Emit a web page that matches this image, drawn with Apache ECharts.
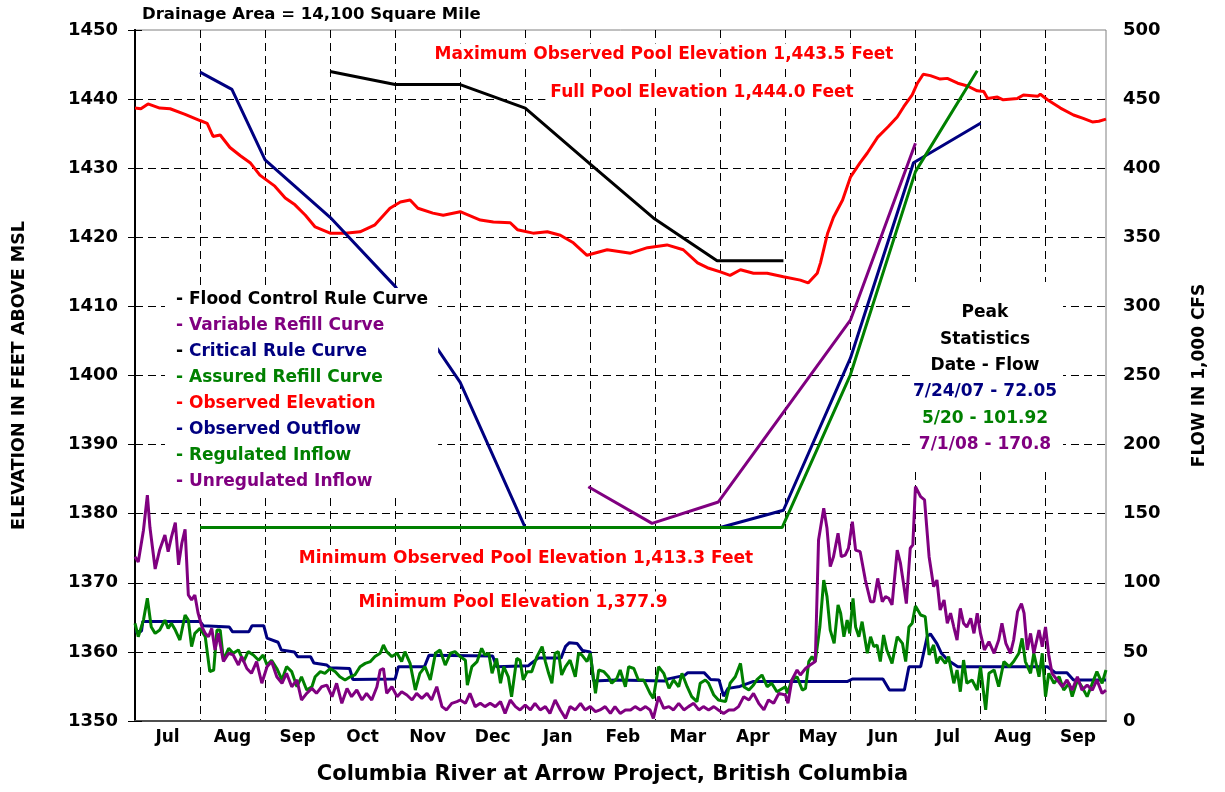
<!DOCTYPE html>
<html>
<head>
<meta charset="utf-8">
<script src="https://cdn.jsdelivr.net/npm/echarts@6/dist/echarts.min.js"></script>
<style>
html,body{margin:0;padding:0;background:#fff;}
#chart{width:1225px;height:792px;}
</style>
</head>
<body>
<div id="chart"></div>
<script>
// ---- Data (x = position in months from start of record, gridline every month) ----
const months = ['Jul','Aug','Sep','Oct','Nov','Dec','Jan','Feb','Mar','Apr','May','Jun','Jul','Aug','Sep'];
const X_MAX = 14.93;

const floodControlRuleCurve = [[3.00,1444.0],[4.00,1442.1],[5.00,1442.1],[6.00,1438.7],[7.00,1430.6],[7.97,1422.8],[8.95,1416.6],[9.97,1416.6]];
const variableRefillCurve = [[6.97,1383.9],[7.95,1378.6],[8.97,1381.7],[11.00,1408.0],[12.00,1433.6]];
const criticalRuleCurve = [[1.00,1443.9],[1.49,1441.4],[2.00,1431.2],[3.00,1422.9],[4.00,1412.9],[5.00,1399.0],[6.00,1378.0],[9.00,1378.0],[9.97,1380.5],[11.00,1402.5],[11.97,1430.8],[13.00,1436.5]];
const assuredRefillCurve = [[1.00,1378.0],[9.95,1378.0],[11.00,1400.1],[12.00,1429.5],[12.95,1444.1]];

const observedElevation = [[0.00,1438.7],[0.09,1438.6],[0.20,1439.3],[0.38,1438.7],[0.54,1438.6],[0.77,1437.8],[1.00,1436.9],[1.11,1436.5],[1.20,1434.6],[1.31,1434.8],[1.46,1433.0],[1.62,1431.8],[1.77,1430.8],[1.92,1429.0],[2.15,1427.4],[2.31,1425.7],[2.46,1424.7],[2.62,1423.2],[2.77,1421.5],[3.00,1420.6],[3.23,1420.6],[3.46,1420.8],[3.69,1421.8],[3.92,1424.2],[4.08,1425.1],[4.23,1425.4],[4.35,1424.2],[4.58,1423.5],[4.74,1423.2],[5.00,1423.7],[5.31,1422.5],[5.51,1422.2],[5.77,1422.1],[5.88,1421.1],[6.12,1420.6],[6.34,1420.8],[6.54,1420.3],[6.74,1419.2],[6.95,1417.4],[7.26,1418.2],[7.62,1417.7],[7.88,1418.5],[8.18,1418.9],[8.43,1418.2],[8.65,1416.3],[8.80,1415.6],[9.00,1415.0],[9.15,1414.5],[9.31,1415.3],[9.51,1414.8],[9.72,1414.8],[9.97,1414.3],[10.23,1413.8],[10.35,1413.4],[10.49,1414.8],[10.54,1416.3],[10.65,1420.6],[10.74,1422.9],[10.88,1425.4],[11.00,1428.7],[11.15,1430.8],[11.26,1432.2],[11.42,1434.5],[11.58,1436.0],[11.72,1437.4],[11.82,1438.9],[11.95,1440.6],[12.03,1442.3],[12.12,1443.6],[12.23,1443.4],[12.38,1442.9],[12.49,1443.0],[12.65,1442.3],[12.80,1441.9],[12.95,1441.2],[13.05,1441.1],[13.11,1440.1],[13.26,1440.3],[13.35,1439.9],[13.57,1440.1],[13.66,1440.6],[13.88,1440.4],[13.92,1440.7],[14.03,1439.9],[14.23,1438.7],[14.43,1437.7],[14.58,1437.2],[14.72,1436.7],[14.82,1436.8],[14.93,1437.1]];

const observedOutflow = [[0.00,64.6],[0.10,65.0],[0.12,72.0],[1.00,72.0],[1.05,69.0],[1.45,68.0],[1.50,64.5],[1.75,64.5],[1.80,69.0],[1.98,69.0],[2.03,60.0],[2.20,57.0],[2.25,51.4],[2.45,50.0],[2.50,46.5],[2.70,46.5],[2.75,42.0],[2.95,40.5],[3.00,38.5],[3.30,38.0],[3.35,30.0],[4.00,30.4],[4.05,39.3],[4.45,39.3],[4.52,47.5],[5.50,47.0],[5.56,39.3],[6.05,40.0],[6.10,42.0],[6.20,45.5],[6.55,45.5],[6.62,54.0],[6.68,56.7],[6.80,56.0],[6.88,51.0],[7.00,50.0],[7.05,29.0],[7.40,29.7],[8.15,29.0],[8.20,30.5],[8.45,33.0],[8.50,35.0],[8.75,35.0],[8.85,30.0],[8.98,29.7],[9.05,18.0],[9.12,23.6],[9.30,25.0],[9.50,28.5],[10.95,28.5],[11.03,30.4],[11.50,30.4],[11.60,22.4],[11.83,22.4],[11.90,39.3],[12.08,39.3],[12.18,61.0],[12.23,63.0],[12.33,56.0],[12.40,49.0],[12.50,44.0],[12.65,39.3],[14.03,39.3],[14.15,35.0],[14.33,35.0],[14.43,29.7],[14.93,29.7]];

const regulatedInflow = [[0.00,70.7],[0.05,61.0],[0.13,73.0],[0.19,88.8],[0.25,68.0],[0.31,63.4],[0.38,65.8],[0.46,73.0],[0.51,67.0],[0.56,70.7],[0.62,65.8],[0.69,58.6],[0.77,76.7],[0.82,73.0],[0.87,53.8],[0.92,63.4],[1.00,67.0],[1.08,61.0],[1.15,35.7],[1.21,36.9],[1.26,65.8],[1.31,65.8],[1.36,44.0],[1.44,52.6],[1.51,49.0],[1.59,51.4],[1.67,43.0],[1.74,50.2],[1.82,47.8],[1.90,44.0],[1.97,47.8],[2.03,40.5],[2.10,44.0],[2.18,38.0],[2.26,29.7],[2.33,39.3],[2.41,35.7],[2.49,24.8],[2.56,32.0],[2.64,22.4],[2.72,24.8],[2.77,32.0],[2.85,35.7],[2.92,34.5],[3.00,38.0],[3.08,35.7],[3.15,32.0],[3.23,29.7],[3.31,32.0],[3.38,33.3],[3.46,39.3],[3.54,41.7],[3.62,43.0],[3.69,46.6],[3.77,49.0],[3.82,55.0],[3.87,50.2],[3.95,46.6],[4.03,49.0],[4.10,43.0],[4.15,50.2],[4.23,41.7],[4.31,22.4],[4.38,34.5],[4.46,39.3],[4.54,29.7],[4.62,49.0],[4.69,51.4],[4.77,40.5],[4.85,49.0],[4.92,50.2],[5.00,46.6],[5.08,44.0],[5.11,26.0],[5.18,39.3],[5.26,43.0],[5.33,52.6],[5.38,47.8],[5.44,49.0],[5.49,34.5],[5.56,45.3],[5.62,27.3],[5.67,39.3],[5.74,32.0],[5.79,17.6],[5.87,45.3],[5.92,44.0],[5.97,29.7],[6.03,35.7],[6.10,35.7],[6.18,46.6],[6.26,53.8],[6.31,43.0],[6.36,34.5],[6.41,27.3],[6.46,49.0],[6.51,50.2],[6.56,33.3],[6.62,39.3],[6.69,44.0],[6.77,32.0],[6.82,49.0],[6.87,47.8],[6.95,43.0],[7.00,49.0],[7.08,20.0],[7.13,36.9],[7.21,35.7],[7.28,32.0],[7.33,27.3],[7.41,30.9],[7.46,36.9],[7.54,24.8],[7.59,39.3],[7.67,38.0],[7.74,29.7],[7.82,29.7],[7.92,20.0],[7.97,16.4],[8.05,39.3],[8.13,34.5],[8.21,23.6],[8.28,29.7],[8.36,24.8],[8.41,34.5],[8.49,24.8],[8.56,17.6],[8.64,14.0],[8.69,27.3],[8.77,29.7],[8.82,27.3],[8.90,18.8],[8.97,15.2],[9.08,14.0],[9.15,27.3],[9.23,32.0],[9.31,41.7],[9.36,24.8],[9.44,22.4],[9.51,26.0],[9.56,29.7],[9.64,33.3],[9.72,24.8],[9.79,27.3],[9.87,21.2],[10.00,24.8],[10.03,20.0],[10.10,29.7],[10.18,32.0],[10.26,22.4],[10.31,23.6],[10.36,43.0],[10.41,46.6],[10.46,43.0],[10.53,68.0],[10.59,102.0],[10.64,90.0],[10.69,65.8],[10.75,56.2],[10.81,84.0],[10.85,78.0],[10.90,61.0],[10.95,73.0],[10.99,63.4],[11.04,88.8],[11.08,68.0],[11.13,61.0],[11.18,71.9],[11.26,49.0],[11.31,61.0],[11.36,53.8],[11.41,55.0],[11.46,43.0],[11.51,62.2],[11.56,51.4],[11.64,41.7],[11.72,61.0],[11.80,56.2],[11.85,43.0],[11.90,68.0],[11.95,70.7],[12.00,83.2],[12.08,76.7],[12.15,75.5],[12.21,47.8],[12.28,55.0],[12.33,41.7],[12.38,46.6],[12.46,41.7],[12.51,46.6],[12.59,27.3],[12.64,36.9],[12.69,21.2],[12.74,44.1],[12.79,27.3],[12.87,29.7],[12.95,22.4],[13.00,39.3],[13.08,8.0],[13.13,34.5],[13.21,36.9],[13.28,24.8],[13.36,43.0],[13.44,39.3],[13.51,43.0],[13.59,49.0],[13.64,59.8],[13.69,43.0],[13.77,34.5],[13.82,49.0],[13.90,32.0],[13.95,49.0],[14.00,17.6],[14.05,34.5],[14.13,27.3],[14.21,32.0],[14.28,22.4],[14.36,27.3],[14.41,17.6],[14.49,29.7],[14.56,24.8],[14.64,17.6],[14.72,27.3],[14.79,35.7],[14.87,27.3],[14.93,36.9]];

const unregulatedInflow = [[0.00,118.9],[0.05,115.0],[0.13,138.0],[0.19,163.5],[0.23,140.0],[0.31,110.0],[0.38,124.0],[0.46,134.6],[0.51,122.5],[0.56,133.0],[0.62,143.5],[0.67,113.0],[0.72,128.6],[0.77,138.7],[0.82,91.2],[0.87,87.6],[0.92,91.2],[0.97,78.0],[1.03,68.0],[1.08,63.4],[1.13,61.0],[1.18,67.0],[1.23,51.4],[1.28,63.4],[1.36,43.0],[1.44,49.0],[1.51,47.8],[1.59,40.5],[1.64,46.6],[1.72,38.0],[1.79,34.5],[1.87,43.0],[1.95,27.3],[2.03,39.3],[2.10,43.0],[2.18,32.0],[2.26,27.3],[2.33,34.5],[2.41,24.8],[2.49,29.7],[2.56,15.2],[2.64,20.0],[2.72,23.6],[2.79,20.0],[2.87,24.8],[2.95,26.0],[3.03,17.6],[3.10,27.3],[3.18,12.8],[3.26,23.6],[3.33,17.6],[3.41,22.4],[3.49,15.2],[3.56,20.0],[3.64,15.2],[3.72,24.8],[3.77,36.9],[3.82,38.0],[3.87,20.0],[3.95,24.8],[4.03,17.6],[4.10,21.2],[4.18,18.8],[4.26,15.2],[4.33,20.0],[4.41,16.4],[4.49,20.0],[4.56,15.2],[4.64,24.8],[4.72,10.4],[4.79,8.0],[4.87,12.8],[4.95,14.0],[5.00,15.2],[5.08,12.8],[5.15,20.0],[5.23,10.4],[5.31,12.8],[5.38,10.4],[5.46,12.8],[5.54,10.4],[5.62,14.0],[5.69,5.5],[5.77,15.2],[5.85,10.4],[5.92,8.0],[6.00,11.6],[6.08,8.0],[6.15,12.8],[6.23,8.0],[6.31,10.4],[6.38,5.5],[6.46,15.2],[6.54,8.0],[6.62,1.9],[6.69,10.4],[6.77,8.0],[6.85,12.8],[6.92,8.0],[7.00,10.4],[7.08,6.8],[7.15,8.0],[7.23,10.4],[7.31,5.5],[7.38,10.4],[7.46,5.5],[7.54,8.0],[7.62,8.0],[7.69,10.4],[7.77,8.0],[7.85,10.4],[7.92,8.0],[7.97,1.9],[8.05,17.6],[8.13,9.2],[8.21,10.4],[8.28,8.0],[8.36,12.8],[8.44,8.0],[8.51,10.4],[8.59,12.8],[8.67,8.0],[8.74,10.4],[8.82,8.0],[8.90,10.4],[8.97,8.0],[9.05,5.5],[9.13,8.0],[9.21,8.0],[9.28,10.4],[9.36,17.6],[9.44,15.2],[9.51,20.0],[9.59,12.8],[9.67,8.0],[9.74,15.2],[9.82,12.8],[9.90,20.0],[10.00,18.8],[10.04,12.8],[10.10,29.7],[10.18,36.9],[10.23,33.3],[10.31,38.0],[10.38,40.5],[10.46,43.0],[10.51,131.0],[10.59,153.9],[10.64,139.4],[10.69,111.7],[10.74,118.9],[10.81,135.8],[10.86,118.9],[10.92,120.0],[10.97,125.0],[11.03,144.2],[11.08,123.7],[11.15,122.5],[11.23,102.0],[11.31,86.3],[11.36,86.3],[11.42,103.2],[11.49,86.3],[11.54,90.0],[11.59,88.8],[11.64,84.0],[11.72,123.7],[11.77,114.0],[11.82,98.4],[11.86,85.0],[11.92,125.0],[11.96,127.4],[12.00,169.6],[12.08,162.3],[12.14,160.0],[12.21,118.9],[12.28,97.2],[12.33,102.0],[12.38,80.3],[12.44,87.6],[12.49,70.7],[12.54,78.0],[12.59,68.0],[12.64,58.6],[12.69,81.5],[12.74,70.7],[12.79,68.0],[12.85,74.3],[12.90,63.4],[12.95,78.0],[13.00,63.4],[13.06,51.4],[13.13,57.4],[13.21,49.0],[13.28,58.6],[13.33,70.7],[13.39,56.2],[13.46,49.0],[13.51,58.6],[13.57,79.1],[13.63,85.0],[13.67,78.0],[13.72,51.4],[13.77,63.4],[13.82,49.0],[13.90,65.8],[13.95,53.8],[14.00,68.0],[14.05,47.8],[14.10,34.5],[14.18,29.7],[14.26,24.8],[14.33,29.7],[14.41,22.4],[14.49,32.0],[14.56,22.4],[14.64,26.0],[14.72,22.4],[14.79,29.7],[14.87,20.0],[14.93,22.4]];

const peakStats = [
  {text:'Peak', color:'#000000'},
  {text:'Statistics', color:'#000000'},
  {text:'Date - Flow', color:'#000000'},
  {text:'7/24/07 - 72.05', color:'#000080'},
  {text:'5/20 - 101.92', color:'#008000'},
  {text:'7/1/08 - 170.8', color:'#800080'}
];

// ---- Styling ----
const FONT = '"DejaVu Sans", "Liberation Sans", sans-serif';
const C = {black:'#000000', navy:'#000080', green:'#008000', red:'#FF0000', purple:'#800080'};

function lineSeries(name, data, color, yAxisIndex) {
  return {
    name: name, type: 'line', data: data, yAxisIndex: yAxisIndex,
    showSymbol: false, symbol: 'none', smooth: false,
    lineStyle: {color: color, width: 3}, itemStyle: {color: color},
    emphasis: {disabled: true}, silent: true
  };
}

const series = [
  lineSeries('Observed Elevation', observedElevation, C.red, 0),
  lineSeries('Flood Control Rule Curve', floodControlRuleCurve, C.black, 0),
  lineSeries('Variable Refill Curve', variableRefillCurve, C.purple, 0),
  lineSeries('Critical Rule Curve', criticalRuleCurve, C.navy, 0),
  lineSeries('Assured Refill Curve', assuredRefillCurve, C.green, 0),
  lineSeries('Observed Outflow', observedOutflow, C.navy, 1),
  lineSeries('Regulated Inflow', regulatedInflow, C.green, 1),
  lineSeries('Unregulated Inflow', unregulatedInflow, C.purple, 1)
];

const legendItems = [
  {name:'Flood Control Rule Curve', color:C.black},
  {name:'Variable Refill Curve', color:C.purple},
  {name:'Critical Rule Curve', color:C.navy},
  {name:'Assured Refill Curve', color:C.green},
  {name:'Observed Elevation', color:C.red},
  {name:'Observed Outflow', color:C.navy},
  {name:'Regulated Inflow', color:C.green},
  {name:'Unregulated Inflow', color:C.purple}
];

function redNote(text, x, y) {
  return {
    type:'text', x:x, y:y, z:100,
    style:{text:text, fill:C.red, font:'bold 17px ' + FONT, align:'center', verticalAlign:'middle',
           backgroundColor:'#fff', padding:[3,5]}
  };
}

const graphics = [
  {type:'text', x:142, y:15, z:100,
   style:{text:'Drainage Area = 14,100 Square Mile', fill:'#000', font:'bold 16.5px ' + FONT, align:'left', verticalAlign:'middle'}},
  redNote('Maximum Observed Pool Elevation 1,443.5 Feet', 664, 55),
  redNote('Full Pool Elevation 1,444.0 Feet', 702, 93),
  redNote('Minimum Observed Pool Elevation 1,413.3 Feet', 526, 559),
  redNote('Minimum Pool Elevation 1,377.9', 513, 603),
  {type:'rect', z:99, shape:{x:910, y:282, width:153, height:187}, style:{fill:'#fff'}}
];
peakStats.forEach(function(p, i){
  graphics.push({type:'text', x:985, y:313 + i*26.3, z:100,
    style:{text:p.text, fill:p.color, font:'bold 17px ' + FONT, align:'center', verticalAlign:'middle'}});
});

const labelFont = {fontFamily: FONT, fontWeight:'bold', color:'#000'};

const option = {
  animation: false,
  backgroundColor: '#fff',
  grid: {left:135, right:119, top:30, bottom:71, show:true, borderColor:'#808080', borderWidth:1, backgroundColor:'transparent'},
  legend: {
    orient:'vertical', left:165, top:288, icon:'none', itemWidth:0, itemHeight:16, itemGap:9,
    selectedMode:false, backgroundColor:'#fff', padding:[3,10,6,6], z:50,
    data: legendItems.map(function(it){ return {name:it.name, textStyle:{color:it.color}}; }),
    formatter: function(name){ return name === 'Critical Rule Curve' ? '{k|-} ' + name : '- ' + name; },
    textStyle: {fontFamily:FONT, fontWeight:'bold', fontSize:17, lineHeight:16,
      rich:{k:{color:'#000', fontFamily:FONT, fontWeight:'bold', fontSize:17}}}
  },
  xAxis: [
    {type:'value', min:0, max:X_MAX, interval:1, position:'bottom',
     axisLine:{show:true, onZero:false, lineStyle:{color:'#505050', width:2}},
     axisTick:{show:false}, axisLabel:{show:false},
     splitLine:{show:true, showMinLine:false, showMaxLine:false, lineStyle:{color:'#000', width:1, type:[8,5]}}},
    {type:'value', min:0, max:X_MAX, interval:0.5, position:'bottom',
     axisLine:{show:false}, axisTick:{show:false}, splitLine:{show:false},
     axisLabel:Object.assign({fontSize:17, margin:8, showMinLabel:true, showMaxLabel:true,
       formatter:function(v){ return Math.abs(v % 1 - 0.5) < 1e-6 ? months[Math.floor(v)] : ''; }}, labelFont)}
  ],
  yAxis: [
    {type:'value', min:1350, max:1450, interval:10, position:'left',
     name:'ELEVATION IN FEET ABOVE MSL', nameLocation:'middle', nameGap:107, nameRotate:90,
     nameTextStyle:{fontFamily:FONT, fontWeight:'bold', fontSize:17.5, color:'#000'},
     axisLine:{show:true, lineStyle:{color:'#000', width:2}},
     axisTick:{show:true, inside:false, length:7, lineStyle:{color:'#000', width:1}},
     axisLabel:Object.assign({fontSize:18, margin:17, formatter:function(v){ return String(v); }}, labelFont),
     splitLine:{show:true, showMinLine:false, showMaxLine:false, lineStyle:{color:'#000', width:1, type:[8,5]}}},
    {type:'value', min:0, max:500, interval:50, position:'right',
     name:'FLOW IN 1,000 CFS', nameLocation:'middle', nameGap:85, nameRotate:90,
     nameTextStyle:{fontFamily:FONT, fontWeight:'bold', fontSize:17, color:'#000'},
     axisLine:{show:true, lineStyle:{color:'#000', width:2}},
     axisTick:{show:true, inside:false, length:7, lineStyle:{color:'#000', width:1}},
     axisLabel:Object.assign({fontSize:18, margin:17, formatter:function(v){ return String(v); }}, labelFont),
     splitLine:{show:false}}
  ],
  title: {text:'Columbia River at Arrow Project, British Columbia', left:'center', top:764,
    textStyle:{fontFamily:FONT, fontWeight:'bold', fontSize:21, color:'#000'}, padding:0},
  graphic: graphics,
  series: series
};

const chart = echarts.init(document.getElementById('chart'), null, {renderer:'canvas'});
chart.setOption(option);
</script>
</body>
</html>
